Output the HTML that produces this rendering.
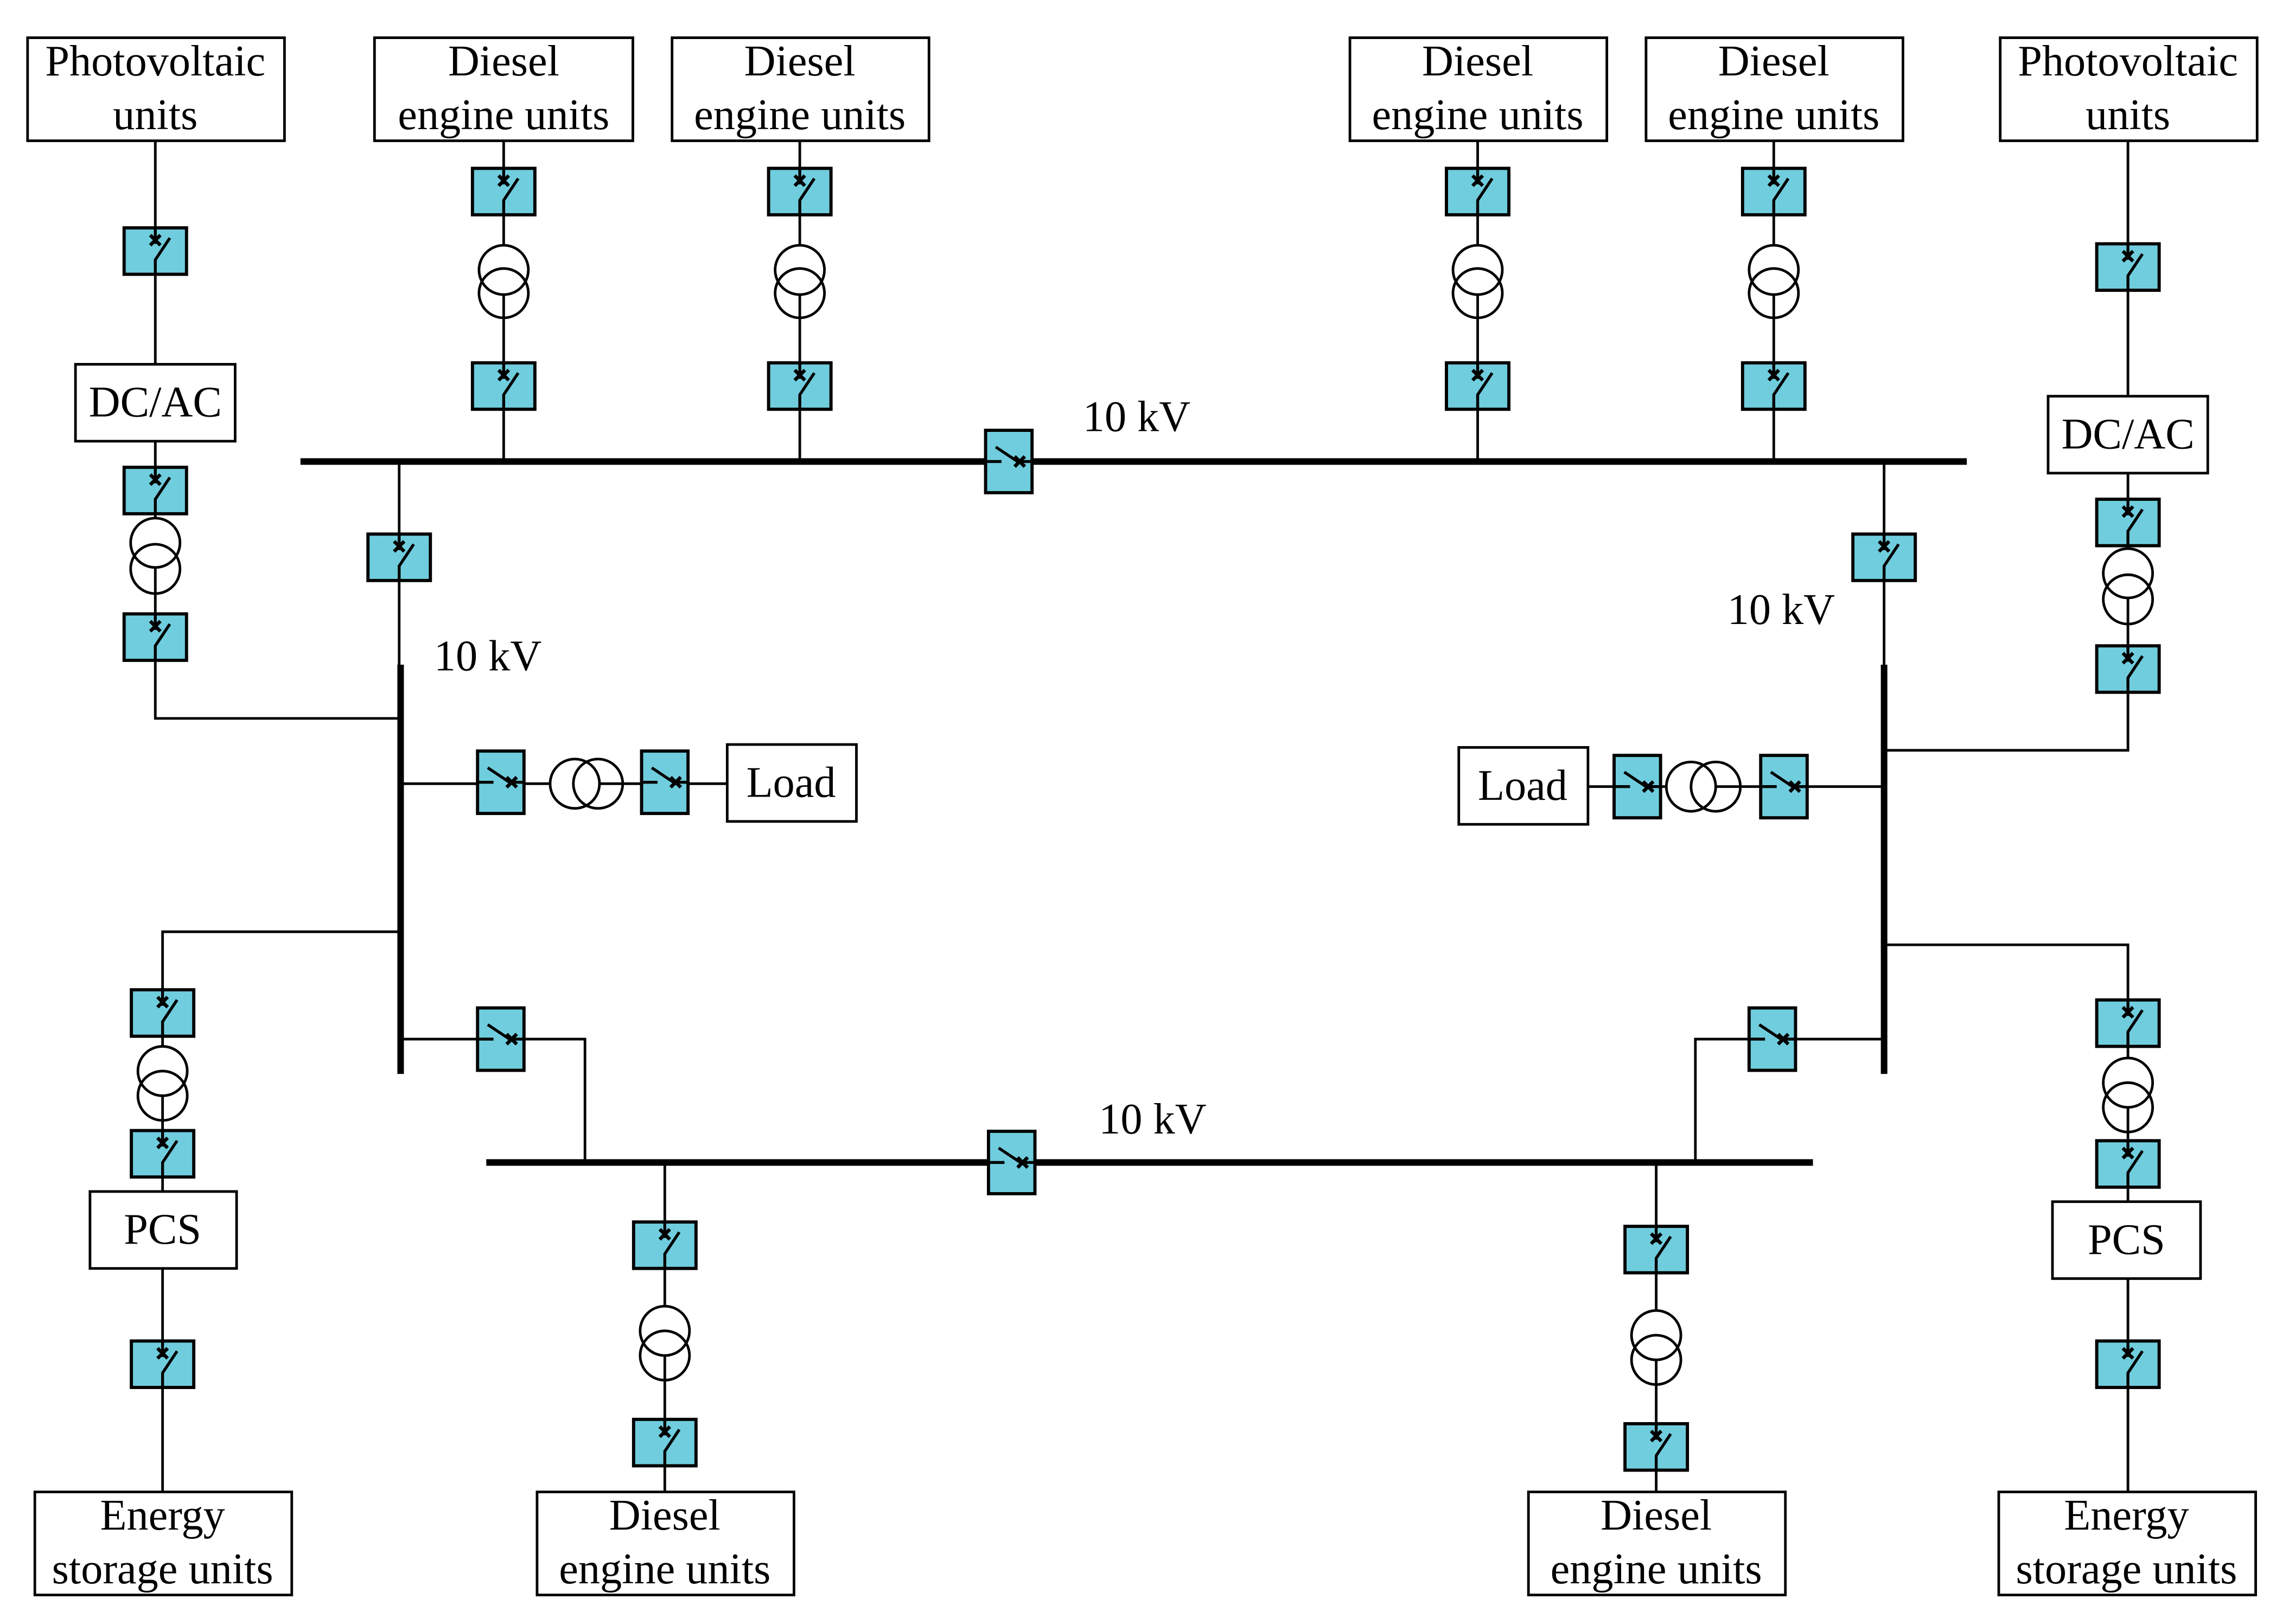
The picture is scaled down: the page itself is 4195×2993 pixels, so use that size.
<!DOCTYPE html>
<html><head><meta charset="utf-8"><style>html,body{margin:0;padding:0;background:#fff}svg{display:block}</style></head>
<body>
<svg width="4195" height="2993" viewBox="0 0 1568 1119" preserveAspectRatio="none" xmlns="http://www.w3.org/2000/svg" font-family="Liberation Serif, serif" font-size="30">
<defs>
<g id="bv">
<rect x="-21.5" y="-16" width="43" height="32" fill="#70cddd" stroke="#000" stroke-width="2.2"/>
<path d="M0,-16 V-5 M0,16 V6 L10,-9" stroke="#000" stroke-width="2" fill="none"/>
<path d="M-3.5,-11 L3.5,-4 M3.5,-11 L-3.5,-4" stroke="#000" stroke-width="2.4"/>
</g>
<g id="bh">
<rect x="-16" y="-21.5" width="32" height="43" fill="#70cddd" stroke="#000" stroke-width="2.2"/>
<path d="M-16,0 H-5 M16,0 H6 L-9,-10" stroke="#000" stroke-width="2" fill="none"/>
<path d="M11,-3.5 L4,3.5 M4,-3.5 L11,3.5" stroke="#000" stroke-width="2.4"/>
</g>
</defs>
<g stroke="#000" stroke-width="1.8" fill="none">
<path d="M107,97 V495 H276"/>
<path d="M347,97 V318 M551,97 V318 M1018,97 V318 M1222,97 V318"/>
<path d="M1466,97 V517 H1298"/>
<path d="M275,318 V460 M1298,318 V460"/>
<path d="M276,540 H501 M1094,542 H1298"/>
<path d="M278,642 H112 V1028 M1298,651 H1466 V1028"/>
<path d="M276,716 H403 V801 M1298,716 H1168 V801"/>
<path d="M458,801 V1028 M1141,801 V1028"/>
<circle cx="107" cy="374" r="17" fill="#fff"/><circle cx="107" cy="392" r="17"/>
<circle cx="347" cy="186" r="17" fill="#fff"/><circle cx="347" cy="202" r="17"/>
<circle cx="551" cy="186" r="17" fill="#fff"/><circle cx="551" cy="202" r="17"/>
<circle cx="1018" cy="186" r="17" fill="#fff"/><circle cx="1018" cy="202" r="17"/>
<circle cx="1222" cy="186" r="17" fill="#fff"/><circle cx="1222" cy="202" r="17"/>
<circle cx="1466" cy="395" r="17" fill="#fff"/><circle cx="1466" cy="413" r="17"/>
<circle cx="396" cy="540" r="17" fill="#fff"/><circle cx="412" cy="540" r="17"/>
<circle cx="1165" cy="542" r="17" fill="#fff"/><circle cx="1182" cy="542" r="17"/>
<circle cx="112" cy="738" r="17" fill="#fff"/><circle cx="112" cy="755" r="17"/>
<circle cx="1466" cy="746" r="17" fill="#fff"/><circle cx="1466" cy="763" r="17"/>
<circle cx="458" cy="917" r="17" fill="#fff"/><circle cx="458" cy="934" r="17"/>
<circle cx="1141" cy="920" r="17" fill="#fff"/><circle cx="1141" cy="937" r="17"/>
</g>
<g stroke="#000" stroke-width="4.5">
<path d="M207,318 H1355 M335,801 H1249 M276,458 V740 M1298,458 V740"/>
</g>
<g fill="#fff" stroke="#000" stroke-width="1.8">
<rect x="19" y="26" width="177" height="71"/>
<rect x="258" y="26" width="178" height="71"/>
<rect x="463" y="26" width="177" height="71"/>
<rect x="930" y="26" width="177" height="71"/>
<rect x="1134" y="26" width="177" height="71"/>
<rect x="1378" y="26" width="177" height="71"/>
<rect x="52" y="251" width="110" height="53"/>
<rect x="1411" y="273" width="110" height="53"/>
<rect x="501" y="513" width="89" height="53"/>
<rect x="1005" y="515" width="89" height="53"/>
<rect x="62" y="821" width="101" height="53"/>
<rect x="1414" y="828" width="102" height="53"/>
<rect x="24" y="1028" width="177" height="71"/>
<rect x="370" y="1028" width="177" height="71"/>
<rect x="1053" y="1028" width="177" height="71"/>
<rect x="1377" y="1028" width="177" height="71"/>
</g>
<use href="#bv" x="107" y="173"/><use href="#bv" x="107" y="338"/><use href="#bv" x="107" y="439"/>
<use href="#bv" x="347" y="132"/><use href="#bv" x="347" y="266"/>
<use href="#bv" x="551" y="132"/><use href="#bv" x="551" y="266"/>
<use href="#bv" x="1018" y="132"/><use href="#bv" x="1018" y="266"/>
<use href="#bv" x="1222" y="132"/><use href="#bv" x="1222" y="266"/>
<use href="#bv" x="1466" y="184"/><use href="#bv" x="1466" y="360"/><use href="#bv" x="1466" y="461"/>
<use href="#bv" x="275" y="384"/><use href="#bv" x="1298" y="384"/>
<use href="#bv" x="112" y="698"/><use href="#bv" x="112" y="795"/><use href="#bv" x="112" y="940"/>
<use href="#bv" x="1466" y="705"/><use href="#bv" x="1466" y="802"/><use href="#bv" x="1466" y="940"/>
<use href="#bv" x="458" y="858"/><use href="#bv" x="458" y="994"/>
<use href="#bv" x="1141" y="861"/><use href="#bv" x="1141" y="997"/>
<use href="#bh" x="695" y="318"/><use href="#bh" x="697" y="801"/>
<use href="#bh" x="345" y="539"/><use href="#bh" x="458" y="539"/>
<use href="#bh" x="1128" y="542"/><use href="#bh" x="1229" y="542"/>
<use href="#bh" x="345" y="716"/><use href="#bh" x="1221" y="716"/>
<g text-anchor="middle" fill="#000">
<text x="107" y="52">Photovoltaic</text><text x="107" y="89">units</text>
<text x="347" y="52">Diesel</text><text x="347" y="89">engine units</text>
<text x="551" y="52">Diesel</text><text x="551" y="89">engine units</text>
<text x="1018" y="52">Diesel</text><text x="1018" y="89">engine units</text>
<text x="1222" y="52">Diesel</text><text x="1222" y="89">engine units</text>
<text x="1466" y="52">Photovoltaic</text><text x="1466" y="89">units</text>
<text x="107" y="287">DC/AC</text><text x="1466" y="309">DC/AC</text>
<text x="545" y="549">Load</text><text x="1049" y="551">Load</text>
<text x="112" y="857">PCS</text><text x="1465" y="864">PCS</text>
<text x="112" y="1054">Energy</text><text x="112" y="1091">storage units</text>
<text x="458" y="1054">Diesel</text><text x="458" y="1091">engine units</text>
<text x="1141" y="1054">Diesel</text><text x="1141" y="1091">engine units</text>
<text x="1465" y="1054">Energy</text><text x="1465" y="1091">storage units</text>
</g>
<g fill="#000">
<text x="746" y="297">10 kV</text>
<text x="299" y="462">10 kV</text>
<text x="1190" y="430">10 kV</text>
<text x="757" y="781">10 kV</text>
</g>
</svg>
</body></html>
